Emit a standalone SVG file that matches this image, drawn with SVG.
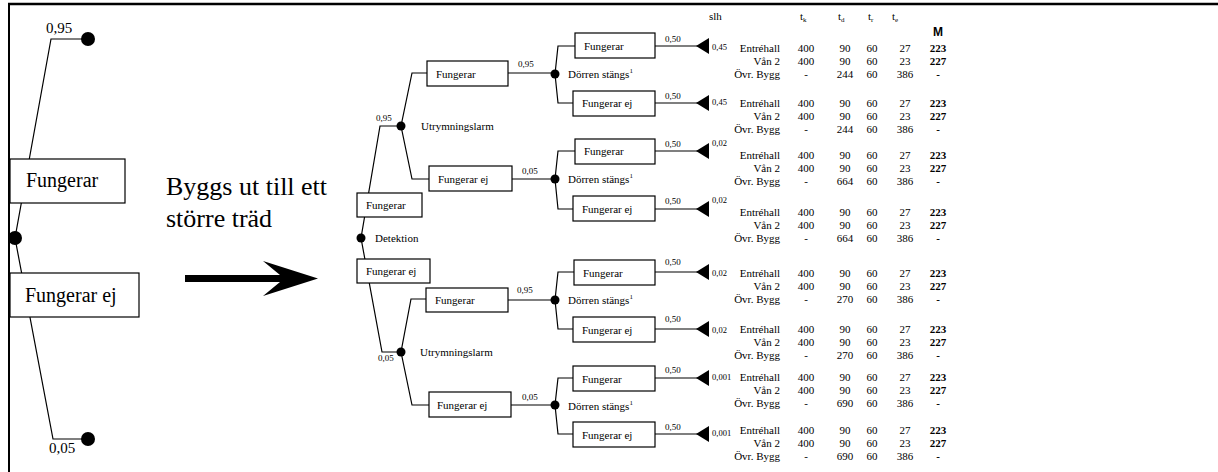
<svg xmlns="http://www.w3.org/2000/svg" width="1218" height="472" viewBox="0 0 1218 472">
<style>
text{font-family:"Liberation Serif","Times New Roman",serif;fill:#000}
.ln{fill:none;stroke:#000;stroke-width:1.2}
.bx{fill:#fff;stroke:#000;stroke-width:1.2}
.bt{font-size:11px}
.big{font-size:20px}
.p{font-size:9px}
.ps{font-size:8.5px}
.t{font-size:11px}
.r{text-anchor:end}
.c{text-anchor:middle}
.b{font-weight:bold}
.sub{font-size:7px}
.hd{font-size:11px}
</style>
<defs>
<polygon id="tri" points="0,0 13,-8 13,8" fill="#000"/>
</defs>
<rect width="1218" height="472" fill="#fff"/>
<g id="frame">
<line x1="8" y1="4" x2="1218" y2="4" stroke="#000" stroke-width="2.5"/>
<line x1="9" y1="3" x2="9" y2="472" stroke="#000" stroke-width="2"/>
</g>

<g id="connectors">
<polyline class="ln" points="88,39 51,39 15,238 53,439 88,439"/>
<polyline class="ln" points="401,126 380,126 361,238 382,352 401,352"/>
<polyline class="ln" points="427,73 412,73 401,126 412,179 429,179"/>
<polyline class="ln" points="426,299 411,299 401,352 412,405 429,405"/>
<line class="ln" x1="508" y1="73" x2="555" y2="73"/>
<line class="ln" x1="512" y1="179" x2="555" y2="179"/>
<line class="ln" x1="508" y1="300" x2="555" y2="300"/>
<line class="ln" x1="511" y1="405" x2="555" y2="405"/>
<polyline class="ln" points="575,46 558,46 555,74 558,103 573,103"/>
<polyline class="ln" points="575,151 558,151 555,179 558,209 573,209"/>
<polyline class="ln" points="574,272 558,272 555,300 558,329 573,329"/>
<polyline class="ln" points="573,378 558,378 555,405 558,434 573,434"/>
<line class="ln" x1="655" y1="46" x2="698" y2="46"/>
<line class="ln" x1="655" y1="103" x2="698" y2="103"/>
<line class="ln" x1="655" y1="151" x2="698" y2="151"/>
<line class="ln" x1="655" y1="209" x2="698" y2="209"/>
<line class="ln" x1="655" y1="272" x2="698" y2="272"/>
<line class="ln" x1="655" y1="329" x2="698" y2="329"/>
<line class="ln" x1="655" y1="378" x2="698" y2="378"/>
<line class="ln" x1="655" y1="434" x2="698" y2="434"/>
<polygon points="185,275 280,275 263,261 318,278.5 263,296 280,282 185,282" fill="#000"/>
</g>

<g id="left-tree">
<circle cx="88" cy="39" r="7"/>
<circle cx="15" cy="238" r="7"/>
<circle cx="88" cy="439" r="7"/>
<text x="46" y="33" style="font-size:15px">0,95</text>
<text x="49" y="453" style="font-size:15px">0,05</text>
<g id="left-fungerar"><rect class="bx" x="10" y="159" width="115" height="44"/><text class="big" x="26" y="187">Fungerar</text></g>
<g id="left-fungerar-ej"><rect class="bx" x="10" y="273" width="129" height="44"/><text class="big" x="25" y="302">Fungerar ej</text></g>
<text x="166" y="195" style="font-size:26px">Byggs ut till ett</text>
<text x="166" y="227" style="font-size:26px">större träd</text>
</g>

<g id="detektion">
<circle cx="361" cy="238" r="4.5"/>
<text class="bt" x="375" y="242">Detektion</text>
<text class="p" x="376" y="121">0,95</text>
<text class="p" x="378" y="361">0,05</text>
</g>
<g id="det-fungerar"><rect class="bx" x="357" y="193" width="65" height="24"/><text class="bt" x="366" y="209">Fungerar</text></g>
<g id="det-fungerar-ej"><rect class="bx" x="357" y="259" width="73" height="24"/><text class="bt" x="366" y="275">Fungerar ej</text></g>

<g id="utr1">
<circle cx="401" cy="126" r="4.5"/>
<text class="bt" x="421" y="130">Utrymningslarm</text>
<text class="p" x="518" y="67">0,95</text>
<text class="p" x="522" y="174">0,05</text>
</g>
<g id="utr1-fungerar"><rect class="bx" x="427" y="61" width="81" height="25"/><text class="bt" x="436" y="78">Fungerar</text></g>
<g id="utr1-fungerar-ej"><rect class="bx" x="429" y="166" width="83" height="25"/><text class="bt" x="438" y="183">Fungerar ej</text></g>

<g id="utr2">
<circle cx="401" cy="352" r="4.5"/>
<text class="bt" x="420" y="356">Utrymningslarm</text>
<text class="p" x="517" y="293">0,95</text>
<text class="p" x="522" y="400">0,05</text>
</g>
<g id="utr2-fungerar"><rect class="bx" x="426" y="288" width="82" height="24"/><text class="bt" x="435" y="304">Fungerar</text></g>
<g id="utr2-fungerar-ej"><rect class="bx" x="429" y="392" width="82" height="25"/><text class="bt" x="437" y="409">Fungerar ej</text></g>

<g id="dorr1">
<circle cx="555" cy="74" r="4.5"/>
<text class="bt" x="568" y="78">Dörren stängs<tspan class="sub" dy="-5">1</tspan></text>
<rect class="bx" x="575" y="33" width="80" height="25"/><text class="bt" x="584" y="50">Fungerar</text>
<rect class="bx" x="573" y="91" width="82" height="25"/><text class="bt" x="582" y="107">Fungerar ej</text>
</g>
<g id="dorr2">
<circle cx="555" cy="179" r="4.5"/>
<text class="bt" x="568" y="183">Dörren stängs<tspan class="sub" dy="-5">1</tspan></text>
<rect class="bx" x="575" y="139" width="80" height="25"/><text class="bt" x="584" y="155">Fungerar</text>
<rect class="bx" x="573" y="196" width="82" height="25"/><text class="bt" x="582" y="213">Fungerar ej</text>
</g>
<g id="dorr3">
<circle cx="555" cy="300" r="4.5"/>
<text class="bt" x="568" y="304">Dörren stängs<tspan class="sub" dy="-5">1</tspan></text>
<rect class="bx" x="574" y="260" width="81" height="25"/><text class="bt" x="583" y="277">Fungerar</text>
<rect class="bx" x="573" y="317" width="82" height="25"/><text class="bt" x="582" y="334">Fungerar ej</text>
</g>
<g id="dorr4">
<circle cx="555" cy="405" r="4.5"/>
<text class="bt" x="568" y="410">Dörren stängs<tspan class="sub" dy="-5">1</tspan></text>
<rect class="bx" x="573" y="366" width="82" height="25"/><text class="bt" x="582" y="383">Fungerar</text>
<rect class="bx" x="573" y="422" width="82" height="25"/><text class="bt" x="582" y="439">Fungerar ej</text>
</g>

<g id="outcomes">
<text class="p" x="665" y="42">0,50</text>
<text class="p" x="665" y="99">0,50</text>
<text class="p" x="665" y="147">0,50</text>
<text class="p" x="665" y="204">0,50</text>
<text class="p" x="665" y="265">0,50</text>
<text class="p" x="665" y="322">0,50</text>
<text class="p" x="665" y="373">0,50</text>
<text class="p" x="665" y="430">0,50</text>
<use href="#tri" x="696" y="46"/>
<use href="#tri" x="696" y="103"/>
<use href="#tri" x="696" y="151"/>
<use href="#tri" x="696" y="209"/>
<use href="#tri" x="696" y="272"/>
<use href="#tri" x="696" y="329"/>
<use href="#tri" x="696" y="378"/>
<use href="#tri" x="696" y="434"/>
<text class="ps" x="712" y="50">0,45</text>
<text class="ps" x="712" y="105">0,45</text>
<text class="ps" x="712" y="146">0,02</text>
<text class="ps" x="712" y="203">0,02</text>
<text class="ps" x="712" y="276">0,02</text>
<text class="ps" x="712" y="333">0,02</text>
<text class="ps" x="712" y="380">0,001</text>
<text class="ps" x="712" y="436">0,001</text>
</g>

<g id="table-header">
<text class="hd" x="709" y="20">slh</text>
<text class="hd" x="800" y="20">t<tspan class="sub" dy="2">k</tspan></text>
<text class="hd" x="838" y="20">t<tspan class="sub" dy="2">d</tspan></text>
<text class="hd" x="868" y="20">t<tspan class="sub" dy="2">r</tspan></text>
<text class="hd" x="892" y="20">t<tspan class="sub" dy="2">e</tspan></text>
<text x="938" y="36" class="c b" style="font-family:'Liberation Sans',Arial,sans-serif;font-size:12px">M</text>
</g>

<g id="table" class="t">
<g transform="translate(0,52)">
<text class="t r" x="780" y="0">Entréhall</text><text class="t c" x="806" y="0">400</text><text class="t c" x="845" y="0">90</text><text class="t c" x="872" y="0">60</text><text class="t c" x="905" y="0">27</text><text class="t c b" x="938" y="0">223</text>
<text class="t r" x="780" y="13">Vån 2</text><text class="t c" x="806" y="13">400</text><text class="t c" x="845" y="13">90</text><text class="t c" x="872" y="13">60</text><text class="t c" x="905" y="13">23</text><text class="t c b" x="938" y="13">227</text>
<text class="t r" x="780" y="26">Övr. Bygg</text><text class="t c" x="806" y="26">-</text><text class="t c" x="845" y="26">244</text><text class="t c" x="872" y="26">60</text><text class="t c" x="905" y="26">386</text><text class="t c b" x="938" y="26">-</text>
</g>
<g transform="translate(0,107)">
<text class="t r" x="780" y="0">Entréhall</text><text class="t c" x="806" y="0">400</text><text class="t c" x="845" y="0">90</text><text class="t c" x="872" y="0">60</text><text class="t c" x="905" y="0">27</text><text class="t c b" x="938" y="0">223</text>
<text class="t r" x="780" y="13">Vån 2</text><text class="t c" x="806" y="13">400</text><text class="t c" x="845" y="13">90</text><text class="t c" x="872" y="13">60</text><text class="t c" x="905" y="13">23</text><text class="t c b" x="938" y="13">227</text>
<text class="t r" x="780" y="26">Övr. Bygg</text><text class="t c" x="806" y="26">-</text><text class="t c" x="845" y="26">244</text><text class="t c" x="872" y="26">60</text><text class="t c" x="905" y="26">386</text><text class="t c b" x="938" y="26">-</text>
</g>
<g transform="translate(0,159)">
<text class="t r" x="780" y="0">Entréhall</text><text class="t c" x="806" y="0">400</text><text class="t c" x="845" y="0">90</text><text class="t c" x="872" y="0">60</text><text class="t c" x="905" y="0">27</text><text class="t c b" x="938" y="0">223</text>
<text class="t r" x="780" y="13">Vån 2</text><text class="t c" x="806" y="13">400</text><text class="t c" x="845" y="13">90</text><text class="t c" x="872" y="13">60</text><text class="t c" x="905" y="13">23</text><text class="t c b" x="938" y="13">227</text>
<text class="t r" x="780" y="26">Övr. Bygg</text><text class="t c" x="806" y="26">-</text><text class="t c" x="845" y="26">664</text><text class="t c" x="872" y="26">60</text><text class="t c" x="905" y="26">386</text><text class="t c b" x="938" y="26">-</text>
</g>
<g transform="translate(0,216)">
<text class="t r" x="780" y="0">Entréhall</text><text class="t c" x="806" y="0">400</text><text class="t c" x="845" y="0">90</text><text class="t c" x="872" y="0">60</text><text class="t c" x="905" y="0">27</text><text class="t c b" x="938" y="0">223</text>
<text class="t r" x="780" y="13">Vån 2</text><text class="t c" x="806" y="13">400</text><text class="t c" x="845" y="13">90</text><text class="t c" x="872" y="13">60</text><text class="t c" x="905" y="13">23</text><text class="t c b" x="938" y="13">227</text>
<text class="t r" x="780" y="26">Övr. Bygg</text><text class="t c" x="806" y="26">-</text><text class="t c" x="845" y="26">664</text><text class="t c" x="872" y="26">60</text><text class="t c" x="905" y="26">386</text><text class="t c b" x="938" y="26">-</text>
</g>
<g transform="translate(0,277)">
<text class="t r" x="780" y="0">Entréhall</text><text class="t c" x="806" y="0">400</text><text class="t c" x="845" y="0">90</text><text class="t c" x="872" y="0">60</text><text class="t c" x="905" y="0">27</text><text class="t c b" x="938" y="0">223</text>
<text class="t r" x="780" y="13">Vån 2</text><text class="t c" x="806" y="13">400</text><text class="t c" x="845" y="13">90</text><text class="t c" x="872" y="13">60</text><text class="t c" x="905" y="13">23</text><text class="t c b" x="938" y="13">227</text>
<text class="t r" x="780" y="26">Övr. Bygg</text><text class="t c" x="806" y="26">-</text><text class="t c" x="845" y="26">270</text><text class="t c" x="872" y="26">60</text><text class="t c" x="905" y="26">386</text><text class="t c b" x="938" y="26">-</text>
</g>
<g transform="translate(0,333)">
<text class="t r" x="780" y="0">Entréhall</text><text class="t c" x="806" y="0">400</text><text class="t c" x="845" y="0">90</text><text class="t c" x="872" y="0">60</text><text class="t c" x="905" y="0">27</text><text class="t c b" x="938" y="0">223</text>
<text class="t r" x="780" y="13">Vån 2</text><text class="t c" x="806" y="13">400</text><text class="t c" x="845" y="13">90</text><text class="t c" x="872" y="13">60</text><text class="t c" x="905" y="13">23</text><text class="t c b" x="938" y="13">227</text>
<text class="t r" x="780" y="26">Övr. Bygg</text><text class="t c" x="806" y="26">-</text><text class="t c" x="845" y="26">270</text><text class="t c" x="872" y="26">60</text><text class="t c" x="905" y="26">386</text><text class="t c b" x="938" y="26">-</text>
</g>
<g transform="translate(0,381)">
<text class="t r" x="780" y="0">Entréhall</text><text class="t c" x="806" y="0">400</text><text class="t c" x="845" y="0">90</text><text class="t c" x="872" y="0">60</text><text class="t c" x="905" y="0">27</text><text class="t c b" x="938" y="0">223</text>
<text class="t r" x="780" y="13">Vån 2</text><text class="t c" x="806" y="13">400</text><text class="t c" x="845" y="13">90</text><text class="t c" x="872" y="13">60</text><text class="t c" x="905" y="13">23</text><text class="t c b" x="938" y="13">227</text>
<text class="t r" x="780" y="26">Övr. Bygg</text><text class="t c" x="806" y="26">-</text><text class="t c" x="845" y="26">690</text><text class="t c" x="872" y="26">60</text><text class="t c" x="905" y="26">386</text><text class="t c b" x="938" y="26">-</text>
</g>
<g transform="translate(0,434)">
<text class="t r" x="780" y="0">Entréhall</text><text class="t c" x="806" y="0">400</text><text class="t c" x="845" y="0">90</text><text class="t c" x="872" y="0">60</text><text class="t c" x="905" y="0">27</text><text class="t c b" x="938" y="0">223</text>
<text class="t r" x="780" y="13">Vån 2</text><text class="t c" x="806" y="13">400</text><text class="t c" x="845" y="13">90</text><text class="t c" x="872" y="13">60</text><text class="t c" x="905" y="13">23</text><text class="t c b" x="938" y="13">227</text>
<text class="t r" x="780" y="26">Övr. Bygg</text><text class="t c" x="806" y="26">-</text><text class="t c" x="845" y="26">690</text><text class="t c" x="872" y="26">60</text><text class="t c" x="905" y="26">386</text><text class="t c b" x="938" y="26">-</text>
</g>
</g>
</svg>
